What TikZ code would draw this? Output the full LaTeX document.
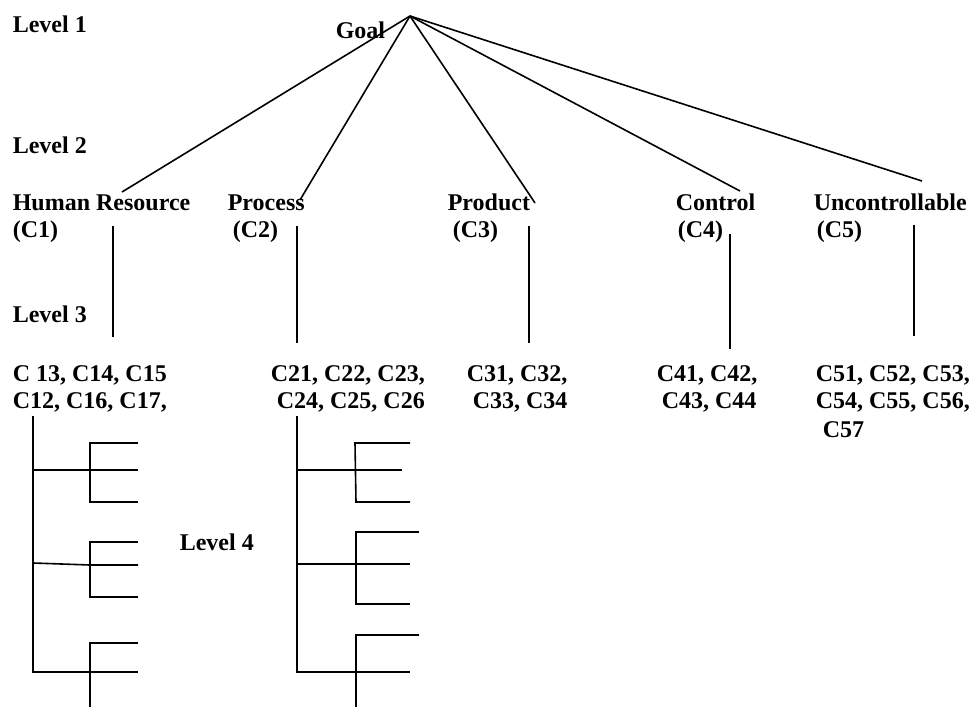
\documentclass[tikz,border=0pt]{standalone}
\usepackage{fontspec}
\setmainfont{Liberation Serif}

\begin{document}
\begin{tikzpicture}[x=0.5pt, y=-0.5pt, line width=0.8pt,
  lbl/.style={font=\fontsize{12}{14}\selectfont\bfseries, inner sep=0pt, anchor=base west}]
\useasboundingbox (0,0) rectangle (971,707);

% Line positions of the labels
\def\catA{210}
\def\catB{237}
\def\subA{381}
\def\subB{408}

% Levels
\node[lbl] (level-1) at (12,32)  {Level 1};
\node[lbl] (level-2) at (12,153) {Level 2};
\node[lbl] (level-3) at (12,322) {Level 3};
\node[lbl] (level-4) at (179,550) {Level 4};

% Goal
\node[lbl] (goal) at (335,38) {Goal};
\coordinate (apex) at (410,16);

% Criteria
\node[lbl] (c1-name) at (12,\catA)  {Human Resource};
\node[lbl] (c1-code) at (12,\catB)  {(C1)};
\node[lbl] (c2-name) at (227,\catA) {Process};
\node[lbl] (c2-code) at (232,\catB) {(C2)};
\node[lbl] (c3-name) at (447,\catA) {Product};
\node[lbl] (c3-code) at (452,\catB) {(C3)};
\node[lbl] (c4-name) at (675,\catA) {Control};
\node[lbl] (c4-code) at (677,\catB) {(C4)};
\node[lbl] (c5-name) at (813,\catA) {Uncontrollable};
\node[lbl] (c5-code) at (816,\catB) {(C5)};

% Sub-criteria
\node[lbl] (s1-a) at (12,\subA)  {C 13, C14, C15};
\node[lbl] (s1-b) at (12,\subB)  {C12, C16, C17,};
\node[lbl] (s2-a) at (270,\subA) {C21, C22, C23,};
\node[lbl] (s2-b) at (276,\subB) {C24, C25, C26};
\node[lbl] (s3-a) at (466,\subA) {C31, C32,};
\node[lbl] (s3-b) at (472,\subB) {C33, C34};
\node[lbl] (s4-a) at (656,\subA) {C41, C42,};
\node[lbl] (s4-b) at (661,\subB) {C43, C44};
\node[lbl] (s5-a) at (815,\subA) {C51, C52, C53,};
\node[lbl] (s5-b) at (815,\subB) {C54, C55, C56,};
\node[lbl] (s5-c) at (822,437)   {C57};

% Goal to criteria
\coordinate (c1-top) at (122,192);
\coordinate (c2-top) at (300,200);
\coordinate (c3-top) at (535,203);
\coordinate (c4-top) at (740,191);
\coordinate (c5-top) at (922,181);
\draw (apex) -- (c1-top);
\draw (apex) -- (c2-top);
\draw (apex) -- (c3-top);
\draw (apex) -- (c4-top);
\draw (apex) -- (c5-top);

% Criteria to sub-criteria
\coordinate (c1-low) at (113,226); \coordinate (s1-up) at (113,337);
\coordinate (c2-low) at (297,226); \coordinate (s2-up) at (297,343);
\coordinate (c3-low) at (529,226); \coordinate (s3-up) at (529,343);
\coordinate (c4-low) at (730,234); \coordinate (s4-up) at (730,349);
\coordinate (c5-low) at (914,225); \coordinate (s5-up) at (914,336);
\draw (c1-low) -- (s1-up);
\draw (c2-low) -- (s2-up);
\draw (c3-low) -- (s3-up);
\draw (c4-low) -- (s4-up);
\draw (c5-low) -- (s5-up);

% Level 4 tree under C1
\coordinate (t1-top) at (33,416);
\coordinate (t1-end) at (33,672);
\draw (t1-top) -- (t1-end) -- (138,672);
\draw (33,470) -- (138,470);
\draw (138,443) -- (90,443) -- (90,502) -- (138,502);
\draw (33,563) -- (90,565) -- (138,565);
\draw (138,542) -- (90,542) -- (90,597) -- (138,597);
\draw (138,643) -- (90,643) -- (90,707);

% Level 4 tree under C2
\coordinate (t2-top) at (297,416);
\coordinate (t2-end) at (297,672);
\draw (t2-top) -- (t2-end) -- (410,672);
\draw (297,470) -- (402,470);
\draw (410,443) -- (355,443) -- (356,502) -- (410,502);
\draw (297,564) -- (410,564);
\draw (419,532) -- (356,532) -- (356,604) -- (410,604);
\draw (419,635) -- (356,635) -- (356,707);

\end{tikzpicture}
\end{document}
